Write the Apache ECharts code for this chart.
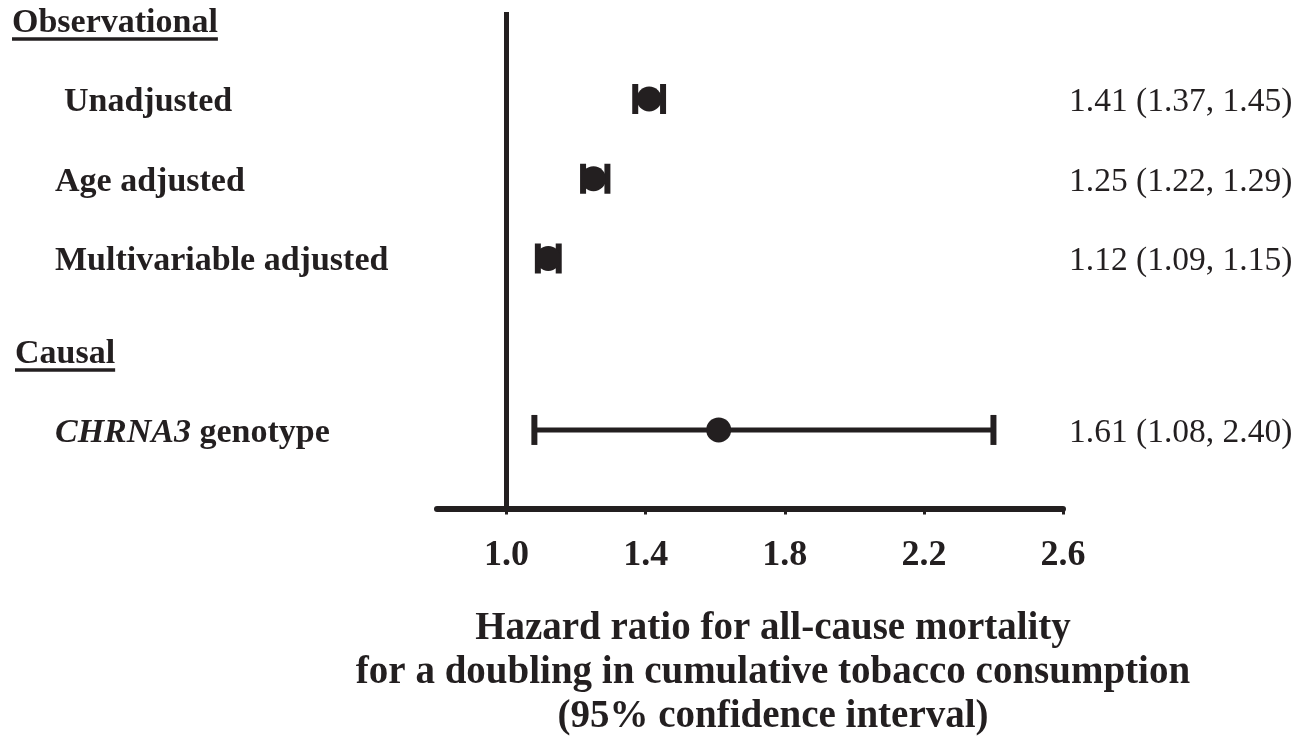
<!DOCTYPE html>
<html>
<head>
<meta charset="utf-8">
<script src="https://cdn.jsdelivr.net/npm/echarts@6/dist/echarts.min.js"></script>
<style>
  html, body { margin: 0; padding: 0; background: #fff; }
  #chart { width: 1303px; height: 736px; }
</style>
</head>
<body>
<div id="chart"></div>
<script>
// Forest plot: hazard ratios with 95% confidence intervals
const sectionNames = ['Observational', 'Causal'];
const rowLabels = ['Unadjusted', 'Age adjusted', 'Multivariable adjusted', 'CHRNA3 genotype'];
const hazardRatio = [1.41, 1.25, 1.12, 1.61];
const ciLow = [1.37, 1.22, 1.09, 1.08];
const ciHigh = [1.45, 1.29, 1.15, 2.40];
const xTicks = [1.0, 1.4, 1.8, 2.2, 2.6];
const italicTerms = ['CHRNA3'];
const axisTitleLines = [
  'Hazard ratio for all-cause mortality',
  'for a doubling in cumulative tobacco consumption',
  '(95% confidence interval)'
];

// Layout: vertical slots on the hidden y axis, and left text indents
const sectionSlot = [0, 4.15];
const rowSlot = [1, 2, 3, 5.15];
const sectionX = [12, 15];
const labelX = [64, 55, 55, 55];
const valueX = 1069;
const INK = '#231f20';
const SERIF = '"Liberation Serif", "Times New Roman", serif';

function fmt(v) { return v.toFixed(2); }

function richLabel(s) {
  let out = s;
  italicTerms.forEach(t => { out = out.split(t).join('{i|' + t + '}'); });
  return out;
}

const measureCtx = document.createElement('canvas').getContext('2d');
function textWidth(s, font) { measureCtx.font = font; return measureCtx.measureText(s).width; }

const rowData = rowLabels.map((_, i) => [ciLow[i], ciHigh[i], hazardRatio[i], rowSlot[i], i]);
const sectionData = sectionNames.map((_, i) => [0.8, sectionSlot[i], i]);

const chart = echarts.init(document.getElementById('chart'), null, { renderer: 'canvas' });

chart.setOption({
  animation: false,
  backgroundColor: '#ffffff',
  grid: { left: 437, right: 240, top: 12, bottom: 227.5 },
  xAxis: {
    type: 'value',
    position: 'bottom',
    min: 0.8,
    max: 2.6,
    splitLine: { show: false },
    axisLine: { show: true, onZero: false, lineStyle: { color: INK, width: 6 } },
    axisTick: {
      show: true, customValues: xTicks, length: 6, inside: false,
      lineStyle: { color: INK, width: 3 }
    },
    axisLabel: {
      customValues: xTicks,
      formatter: v => v.toFixed(1),
      color: INK, fontFamily: SERIF, fontWeight: 'bold', fontSize: 36, margin: 29
    }
  },
  yAxis: {
    type: 'value', inverse: true, min: -0.091, max: 6.135, show: false
  },
  graphic: [{
    type: 'text',
    x: 773,
    y: 607,
    style: {
      text: axisTitleLines.join('\n'),
      align: 'center',
      verticalAlign: 'top',
      fontFamily: SERIF,
      fontWeight: 'bold',
      fontSize: 39,
      lineHeight: 44,
      fill: INK
    }
  }],
  series: [
    {
      type: 'custom',
      name: 'estimates',
      clip: false,
      data: rowData,
      encode: { x: [0, 1, 2], y: 3 },
      markLine: {
        silent: true,
        symbol: 'none',
        label: { show: false },
        lineStyle: { color: INK, width: 5, type: 'solid' },
        data: [{ xAxis: 1.0 }]
      },
      renderItem: function (params, api) {
        const slot = api.value(3);
        const idx = api.value(4);
        const lo = api.coord([api.value(0), slot]);
        const hi = api.coord([api.value(1), slot]);
        const c = api.coord([api.value(2), slot]);
        const capH = 15;
        return {
          type: 'group',
          children: [
            { type: 'line', shape: { x1: lo[0], y1: lo[1], x2: hi[0], y2: hi[1] },
              style: { stroke: INK, lineWidth: 5 } },
            { type: 'line', shape: { x1: lo[0], y1: lo[1] - capH, x2: lo[0], y2: lo[1] + capH },
              style: { stroke: INK, lineWidth: 6 } },
            { type: 'line', shape: { x1: hi[0], y1: hi[1] - capH, x2: hi[0], y2: hi[1] + capH },
              style: { stroke: INK, lineWidth: 6 } },
            { type: 'circle', shape: { cx: c[0], cy: c[1], r: 12.5 }, style: { fill: INK } },
            { type: 'text', x: labelX[idx], y: c[1] + 3,
              style: {
                text: richLabel(rowLabels[idx]),
                verticalAlign: 'middle', align: 'left',
                fontFamily: SERIF, fontWeight: 'bold', fontSize: 34, fill: INK,
                rich: {
                  i: { fontFamily: SERIF, fontWeight: 'bold', fontStyle: 'italic', fontSize: 34, fill: INK }
                }
              } },
            { type: 'text', x: valueX, y: c[1] + 3,
              style: {
                text: fmt(api.value(2)) + ' (' + fmt(api.value(0)) + ', ' + fmt(api.value(1)) + ')',
                verticalAlign: 'middle', align: 'left',
                fontFamily: SERIF, fontWeight: 'normal', fontSize: 33.5, fill: INK
              } }
          ]
        };
      }
    },
    {
      type: 'custom',
      name: 'sections',
      clip: false,
      silent: true,
      data: sectionData,
      encode: { x: 0, y: 1 },
      renderItem: function (params, api) {
        const slot = api.value(1);
        const idx = api.value(2);
        const p = api.coord([0.8, slot]);
        const font = 'bold 34px ' + SERIF;
        const w = textWidth(sectionNames[idx], font);
        const x = sectionX[idx];
        return {
          type: 'group',
          children: [
            { type: 'text', x: x, y: p[1] + 4,
              style: {
                text: sectionNames[idx], verticalAlign: 'middle', align: 'left',
                fontFamily: SERIF, fontWeight: 'bold', fontSize: 34, fill: INK
              } },
            { type: 'rect', shape: { x: x, y: p[1] + 18, width: w, height: 3.5 },
              style: { fill: INK } }
          ]
        };
      }
    }
  ]
});
</script>
</body>
</html>
